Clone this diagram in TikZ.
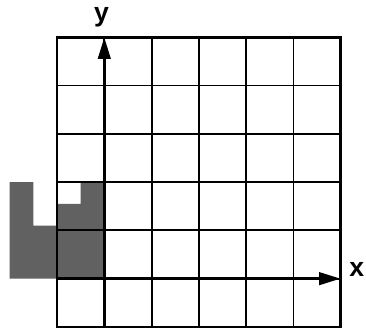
\documentclass[tikz,border=0pt]{standalone}
\usepackage{fontspec}
\setsansfont{Liberation Sans}
\usepackage{tikz}
\usetikzlibrary{arrows.meta}

\begin{document}
\begin{tikzpicture}[x=1cm,y=1.021cm]
            \useasboundingbox (-2.205,-1.062) rectangle (5.533,5.770);

            % shaded set
            \fill[black!62] (-2,0) -- (-2,2) -- (-1.5,2) -- (-1.5,1.1) -- (-1,1.1) -- (-1,1.55)
                -- (-0.5,1.55) -- (-0.5,2) -- (0,2) -- (0,0) -- cycle;

            \foreach \i in {0,...,4} {
                    \draw[line width=1.1pt] (\i,-1) -- (\i,5);
                    \draw[line width=1.1pt] (-1,\i) -- (5,\i);
                }
            \draw[line width=1.6pt] (-1,-1) rectangle (5,5);

            \coordinate (xend) at (5,0);
            \coordinate (yend) at (0,5);
            \draw[line width=2pt, -{Triangle[length=0.46cm,width=0.26cm]}] (-1,0) -- (xend);
            \draw[line width=2pt, -{Triangle[length=0.46cm,width=0.26cm]}] (0,-1) -- (yend);

            \node[font=\sffamily\bfseries\fontsize{16}{16}\selectfont] (xlabel) at (5.34,0.2) {x};
            \node[font=\sffamily\bfseries\fontsize{16}{16}\selectfont] (ylabel) at (-0.06,5.42) {y};

        \end{tikzpicture}
\end{document}
